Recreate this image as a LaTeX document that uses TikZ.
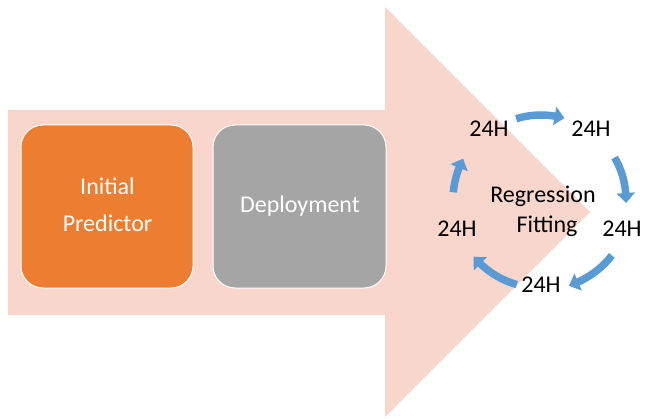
\documentclass[tikz,border=0pt]{standalone}
\usepackage{fontspec}
\setmainfont{Carlito}
\usetikzlibrary{arrows.meta,bending,calc}
\definecolor{flowpink}{HTML}{F8D6CB}
\definecolor{boxorange}{HTML}{ED7D31}
\definecolor{boxgray}{HTML}{A5A5A5}
\definecolor{cycleblue}{HTML}{5B9BD5}
\begin{document}
\begin{tikzpicture}[x=1pt,y=1pt,
  phase/.style={draw=white,line width=1pt,rounded corners=22pt},
  boxtext/.style={text=white,font=\fontsize{24}{28}\selectfont,anchor=base},
  hourtext/.style={text=black,font=\fontsize{24}{28}\selectfont,anchor=base},
  cyclearrow/.style={draw=cycleblue,line width=7.5pt,line cap=butt,
    -{Triangle[width=18pt,length=10pt,bend]}}]
\useasboundingbox (0,0) rectangle (645,418);
% large background arrow
\fill[flowpink] (8,103) -- (385,103) -- (385,1) -- (590,206) -- (385,411)
  -- (385,308) -- (8,308) -- cycle;
% the two phase boxes
\fill[boxorange,phase] (21,130) rectangle (193,293);
\fill[boxgray,phase] (213,130) rectangle (386,293);
\node[boxtext] (init1) at (107.5,223) {Initial};
\node[boxtext] (init2) at (107.5,186) {Predictor};
\node[boxtext] (deploy) at (300,205) {Deployment};
% regression cycle
\node[hourtext] (ha) at (489,281) {24H};
\node[hourtext] (hb) at (591,281) {24H};
\node[hourtext] (hc) at (622,181) {24H};
\node[hourtext] (hd) at (541,125) {24H};
\node[hourtext] (he) at (457,181) {24H};
\node[hourtext] (reg) at (543,215) {Regression};
\node[hourtext] (fit) at (547,185) {Fitting};
\coordinate (hub) at (541,218);
\draw[cyclearrow] ($(hub)+(107:85)$) arc[start angle=107,end angle=74,radius=85];
\draw[cyclearrow] ($(hub)+(30:85)$) arc[start angle=30,end angle=-2,radius=85];
\draw[cyclearrow] ($(hub)+(-38:90)$) arc[start angle=-38,end angle=-72,radius=90];
\draw[cyclearrow] ($(hub)+(-106:88)$) arc[start angle=-106,end angle=-140,radius=88];
\draw[cyclearrow] ($(hub)+(175:88)$) arc[start angle=175,end angle=152,radius=88];
\end{tikzpicture}
\end{document}
